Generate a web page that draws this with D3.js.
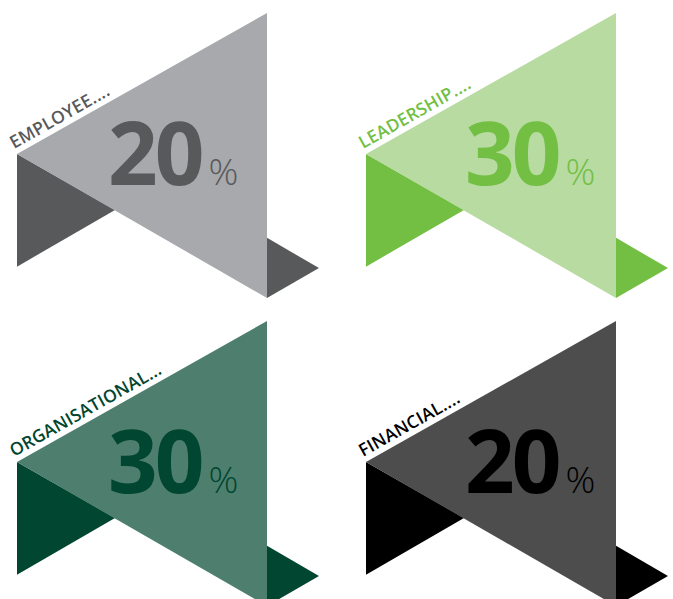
<!DOCTYPE html>
<html>
<head>
<meta charset="utf-8">
<script src="https://cdn.jsdelivr.net/npm/d3@7"></script>
<style>
  body { margin: 0; background: #fff; }
  svg { display: block; }
</style>
</head>
<body>
<div id="chartDiv"></div>
<script>
// Data
  const categories = ['EMPLOYEE....', 'LEADERSHIP....', 'ORGANISATIONAL...', 'FINANCIAL....'];
  const values = [20, 30, 30, 20];
  const lightColors = ['#a7a9ac', '#b7dba0', '#4e7f6e', '#4d4d4d'];
  const darkColors = ['#58595b', '#72bf44', '#004631', '#000000'];

  const width = 673, height = 599;

  let svg = d3.select('#chartDiv').append('svg')
    .attr('width', width)
    .attr('height', height);

// panel grid: column / row offsets
  const colScale = d3.scaleOrdinal().domain([0, 1]).range([0, 349]);
  const rowScale = d3.scaleOrdinal().domain([0, 1]).range([0, 308]);
  const numShift = d3.scaleOrdinal().domain([0, 1]).range([0, 8]);

// shape coordinates inside one panel (unit space -> px)
  const xScale = d3.scaleLinear().domain([0, 1]).range([17, 267]);
  const yScale = d3.scaleLinear().domain([0, 1]).range([13, 298]);

  const lightTri = [[0, 0.495], [1, 0], [1, 1]];
  const leftTri = [[0, 0.495], [0, 0.89], [0.392, 0.691]];
  const rightTri = [[1, 0.789], [1.208, 0.895], [1, 1]];

  const line = d3.line().x(p => xScale(p[0])).y(p => yScale(p[1]));
  const angle = Math.atan2(yScale(0) - yScale(0.495), xScale(1) - xScale(0)) * 180 / Math.PI;

  const panels = svg.selectAll('g.panel')
    .data(categories.map((c, i) => ({ label: c, value: values[i], i: i })))
    .enter().append('g')
      .attr('class', 'panel')
      .attr('transform', d => `translate(${colScale(d.i % 2)},${rowScale(Math.floor(d.i / 2))})`);

  panels.append('path')
    .attr('d', d => line(leftTri) + 'Z')
    .attr('fill', d => darkColors[d.i]);

  panels.append('path')
    .attr('d', d => line(rightTri) + 'Z')
    .attr('fill', d => darkColors[d.i]);

  panels.append('path')
    .attr('d', d => line(lightTri) + 'Z')
    .attr('fill', d => lightColors[d.i]);

// label along the upper edge
  panels.append('text')
    .attr('transform', `translate(${xScale(0) - 3},${yScale(0.495) - 5}) rotate(${angle})`)
    .attr('fill', d => darkColors[d.i])
    .style('font-family', '"Open Sans", sans-serif')
    .style('font-weight', 600)
    .style('font-size', '17.5px')
    .style('letter-spacing', '0.2px')
    .text(d => d.label);

// big value
  const num = panels.append('text')
    .attr('x', d => 108 + numShift(d.i % 2))
    .attr('y', 185)
    .attr('fill', d => darkColors[d.i])
    .style('font-family', '"Open Sans", sans-serif');

  num.append('tspan')
    .style('font-weight', 700)
    .style('font-size', '87px')
    .style('letter-spacing', '-3px')
    .text(d => d.value);

  num.append('tspan')
    .attr('dx', 7)
    .style('font-weight', 300)
    .style('font-size', '37px')
    .text('%');
</script>
</body>
</html>
